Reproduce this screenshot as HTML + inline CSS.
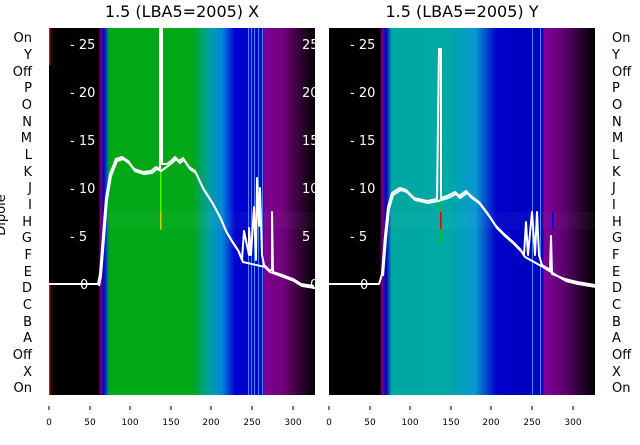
<!DOCTYPE html>
<html><head><style>
body{margin:0;background:#fff;}
svg{font-family:"DejaVu Sans","Liberation Sans",sans-serif;}
</style></head><body>
<svg width="640" height="440" viewBox="0 0 640 440" xmlns="http://www.w3.org/2000/svg">
<defs>
<linearGradient id="gx" x1="0" x2="1" y1="0" y2="0">
<stop offset="0" stop-color="#000"/>
<stop offset="0.185" stop-color="#000"/>
<stop offset="0.195" stop-color="#7a0080"/>
<stop offset="0.205" stop-color="#0000c0"/>
<stop offset="0.215" stop-color="#0040d0"/>
<stop offset="0.225" stop-color="#00a818"/>
<stop offset="0.54" stop-color="#00a818"/>
<stop offset="0.6" stop-color="#00a0a0"/>
<stop offset="0.65" stop-color="#0088d8"/>
<stop offset="0.7" stop-color="#0000d0"/>
<stop offset="0.8" stop-color="#0000c8"/>
<stop offset="0.81" stop-color="#800098"/>
<stop offset="0.88" stop-color="#70007a"/>
<stop offset="1" stop-color="#000"/>
</linearGradient>
<linearGradient id="gy" x1="0" x2="1" y1="0" y2="0">
<stop offset="0" stop-color="#000"/>
<stop offset="0.19" stop-color="#000"/>
<stop offset="0.2" stop-color="#7a0080"/>
<stop offset="0.215" stop-color="#0000c0"/>
<stop offset="0.235" stop-color="#00a8a0"/>
<stop offset="0.45" stop-color="#00a8a8"/>
<stop offset="0.55" stop-color="#0898d0"/>
<stop offset="0.63" stop-color="#0000c8"/>
<stop offset="0.8" stop-color="#0000c0"/>
<stop offset="0.81" stop-color="#800098"/>
<stop offset="0.88" stop-color="#600070"/>
<stop offset="1" stop-color="#000"/>
</linearGradient>
<clipPath id="c1"><rect x="49" y="28" width="266" height="367"/></clipPath>
<clipPath id="c2"><rect x="329" y="28" width="266" height="367"/></clipPath>
</defs>

<text x="182" y="17" font-size="16" text-anchor="middle">1.5 (LBA5=2005) X</text>
<text x="462" y="17" font-size="16" text-anchor="middle">1.5 (LBA5=2005) Y</text>

<!-- left panel -->
<rect x="49" y="28" width="266" height="367" fill="url(#gx)"/>
<g clip-path="url(#c1)">
<rect x="100" y="212" width="215" height="17" fill="#fff" opacity="0.03"/>
<g fill="#3a8aff"><rect x="248" y="28" width="1" height="367"/><rect x="251" y="28" width="1" height="367"/><rect x="254" y="28" width="1" height="367"/><rect x="258" y="28" width="1" height="367"/><rect x="262" y="28" width="1" height="367"/></g>
<rect x="49" y="28" width="1.5" height="37" fill="#e00"/>
<rect x="49" y="284" width="1.5" height="111" fill="#e00"/>
<rect x="160" y="170" width="1.5" height="60" fill="#40ff00"/>
<rect x="160" y="212" width="1.5" height="17" fill="#d0d000"/>
<g fill="#fff" font-size="13"><text x="70" y="49">- 25</text><text x="70" y="97">- 20</text><text x="70" y="145">- 15</text><text x="70" y="193">- 10</text><text x="70" y="241">- 5</text><text x="80" y="289">0</text>
<text x="302" y="49">25</text><text x="302" y="97">20</text><text x="302" y="145">15</text><text x="302" y="193">10</text><text x="302" y="241">5</text><text x="310" y="289">0</text></g>
<g fill="none" stroke="#fff" stroke-width="2" stroke-linejoin="round">
<polyline points="49,284 98,284 100,274 103,236 106,198 110,174 116,159 122,157 128,161 134,169 143,172 151,171 156,167 160,169 160,26 162,26 162,164 167,164 171,161 175,157 179,161 183,158 189,167 195,171 203,188 212,202 220,217 226,231 232,241 238,250 242,260 244,231 249,255 249,228 251,255 254,207 256,260 257,178 259,226 260,188 262,255 264,265 269,270 272,270 272,212 273,272 285,276 293,279 301,284 314,286"/>
<polyline transform="translate(1,2)" points="98,284 100,274 103,236 106,198 110,174 116,159 122,157 128,161 134,169 143,172 151,171 156,167 160,169 167,164 171,161 175,157 179,161 183,158 189,167 195,171 203,188 212,202 220,217 226,231 232,241 238,250 242,260 264,265 269,270 285,276 293,279 301,284 314,286"/>
</g>
</g>

<!-- right panel -->
<rect x="329" y="28" width="266" height="367" fill="url(#gy)"/>
<g clip-path="url(#c2)">
<rect x="390" y="212" width="205" height="17" fill="#fff" opacity="0.03"/>
<rect x="532" y="28" width="1" height="367" fill="#3a8aff"/>
<rect x="540" y="28" width="1" height="367" fill="#3a8aff"/>
<rect x="552" y="212" width="1.5" height="17" fill="#0000d0"/>
<rect x="440" y="200" width="1.5" height="45" fill="#10c010"/>
<rect x="440" y="212" width="1.5" height="17" fill="#e00"/>
<g fill="#fff" font-size="13"><text x="350" y="49">- 25</text><text x="350" y="97">- 20</text><text x="350" y="145">- 15</text><text x="350" y="193">- 10</text><text x="350" y="241">- 5</text><text x="360" y="289">0</text></g>
<g fill="none" stroke="#fff" stroke-width="2" stroke-linejoin="round">
<polyline points="329,284 379,284 382,274 385,236 388,207 392,193 400,188 406,190 414,198 427,201 437,199 439,49 441,49 441,198 447,196 455,192 459,196 466,191 471,196 479,202 488,214 496,226 504,234 512,241 520,249 524,255 526,222 528,255 532,212 535,255 537,212 539,255 542,265 550,270 551,236 552,274 565,279 577,282 595,285"/>
<polyline transform="translate(1,2)" points="382,274 385,236 388,207 392,193 400,188 406,190 414,198 427,201 437,199 447,196 455,192 459,196 466,191 471,196 479,202 488,214 496,226 504,234 512,241 520,249 524,255 542,265 550,270 565,279 577,282 595,285"/>
</g>
</g>

<!-- dipole labels -->
<g font-size="13" fill="#000">
<g text-anchor="end">
<text x="32" y="42">On</text><text x="32" y="59">Y</text><text x="32" y="76">Off</text><text x="32" y="92">P</text><text x="32" y="109">O</text><text x="32" y="126">N</text><text x="32" y="142">M</text><text x="32" y="159">L</text><text x="32" y="176">K</text><text x="32" y="192">J</text><text x="32" y="209">I</text><text x="32" y="226">H</text><text x="32" y="242">G</text><text x="32" y="259">F</text><text x="32" y="276">E</text><text x="32" y="292">D</text><text x="32" y="309">C</text><text x="32" y="326">B</text><text x="32" y="342">A</text><text x="32" y="359">Off</text><text x="32" y="376">X</text><text x="32" y="392">On</text>
</g>
<g>
<text x="612" y="42">On</text><text x="612" y="59">Y</text><text x="612" y="76">Off</text><text x="612" y="92">P</text><text x="612" y="109">O</text><text x="612" y="126">N</text><text x="612" y="142">M</text><text x="612" y="159">L</text><text x="612" y="176">K</text><text x="612" y="192">J</text><text x="612" y="209">I</text><text x="612" y="226">H</text><text x="612" y="242">G</text><text x="612" y="259">F</text><text x="612" y="276">E</text><text x="612" y="292">D</text><text x="612" y="309">C</text><text x="612" y="326">B</text><text x="612" y="342">A</text><text x="612" y="359">Off</text><text x="612" y="376">X</text><text x="612" y="392">On</text>
</g>
<text transform="translate(5,215) rotate(-90)" text-anchor="middle" font-size="13">Dipole</text>
</g>

<!-- x ticks -->
<g font-size="9" fill="#000" text-anchor="middle">
<g stroke="#000" stroke-width="1">
<line x1="49" y1="406" x2="49" y2="410"/><line x1="90" y1="406" x2="90" y2="410"/><line x1="130" y1="406" x2="130" y2="410"/><line x1="171" y1="406" x2="171" y2="410"/><line x1="211" y1="406" x2="211" y2="410"/><line x1="252" y1="406" x2="252" y2="410"/><line x1="293" y1="406" x2="293" y2="410"/>
<line x1="329" y1="406" x2="329" y2="410"/><line x1="370" y1="406" x2="370" y2="410"/><line x1="410" y1="406" x2="410" y2="410"/><line x1="451" y1="406" x2="451" y2="410"/><line x1="491" y1="406" x2="491" y2="410"/><line x1="532" y1="406" x2="532" y2="410"/><line x1="573" y1="406" x2="573" y2="410"/>
</g>
<text x="49" y="425">0</text><text x="90" y="425">50</text><text x="130" y="425">100</text><text x="171" y="425">150</text><text x="211" y="425">200</text><text x="252" y="425">250</text><text x="293" y="425">300</text>
<text x="329" y="425">0</text><text x="370" y="425">50</text><text x="410" y="425">100</text><text x="451" y="425">150</text><text x="491" y="425">200</text><text x="532" y="425">250</text><text x="573" y="425">300</text>
</g>
</svg>
</body></html>
